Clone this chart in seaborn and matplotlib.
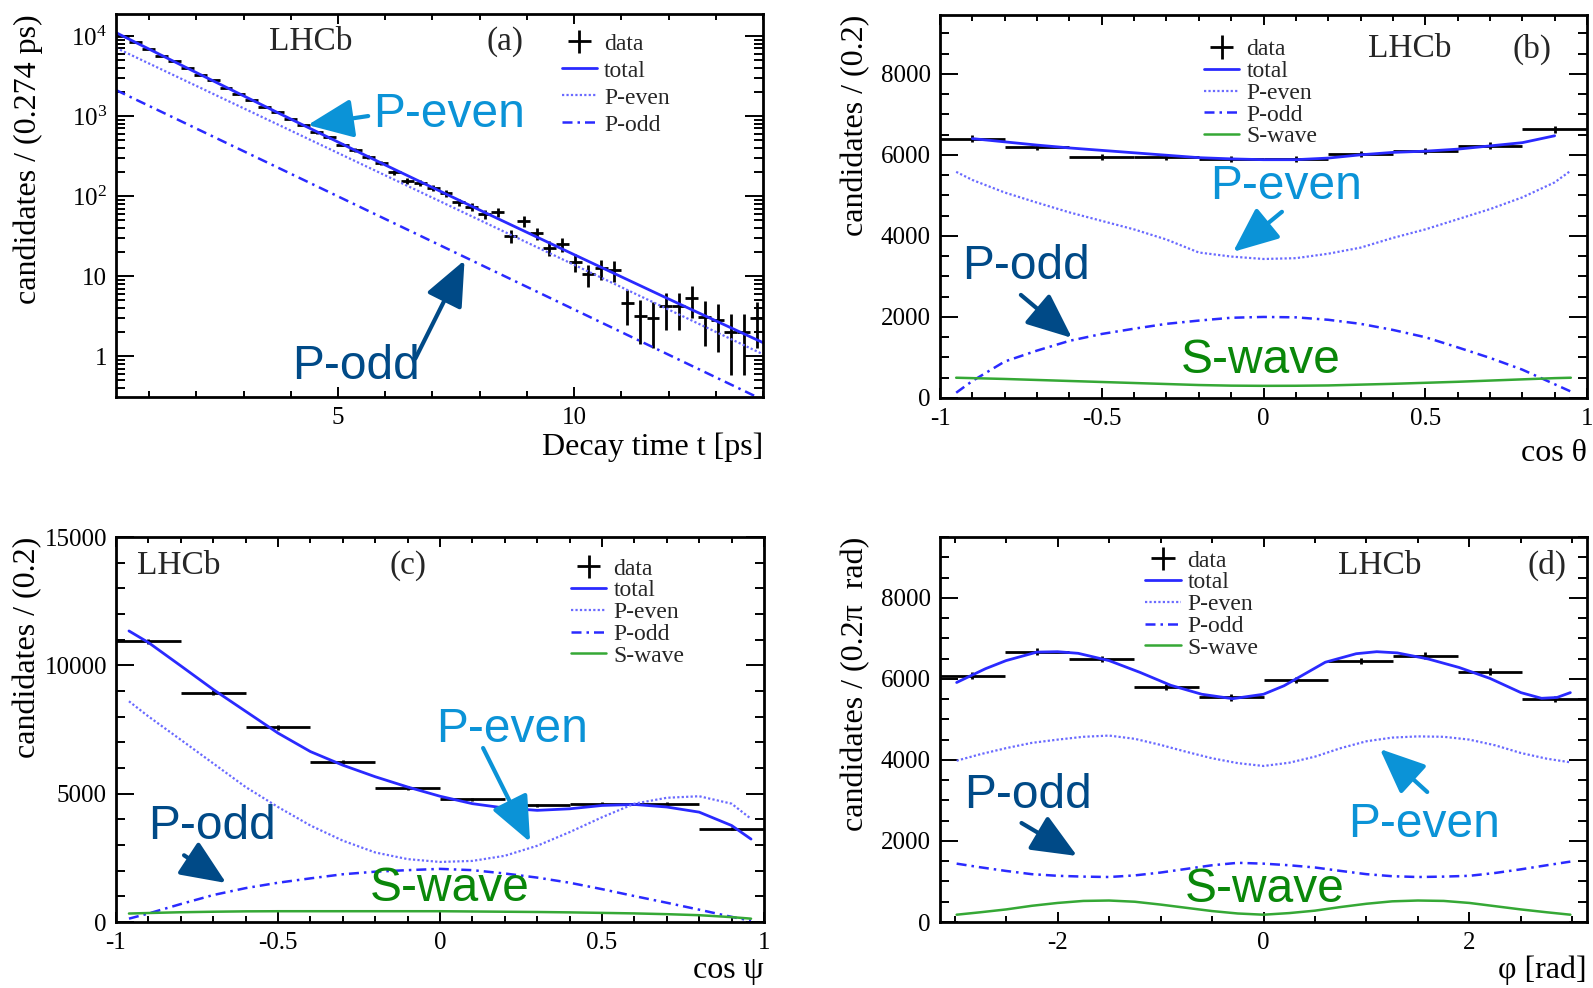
import numpy as np
import matplotlib
matplotlib.use("Agg")
import matplotlib.pyplot as plt
import seaborn as sns
from matplotlib.ticker import MultipleLocator, FixedLocator, FixedFormatter, FuncFormatter, LogLocator, NullFormatter

# ---------------- (a) decay time ----------------
t_lo, t_hi, t_bin = 0.3, 14.0, 0.274
decay_counts = [10000, 8300, 6950, 5700, 4800, 3950, 3300, 2780, 2270, 1900,
                1600, 1310, 1110, 910, 770, 630, 540, 440, 375, 305,
                262, 200, 154, 145, 126, 109, 84, 73, 60, 63,
                31.6, 48.7, 34.5, 22.4, 25, 15, 10.6, 12.6, 12, 4.6,
                3.2, 3.0, 4.2, 4.2, 5.3, 3.1, 2.8, 2.0, 2.0, 3.0]
t_fit_total = [0.3, 2, 4, 6, 8, 10, 12, 14]
total_t = [11000, 3490, 917, 245, 67, 18.6, 5.2, 1.48]
t_fit_comp = [0.3, 14.0]
peven_t = [7100, 1.06]
podd_t = [2110, 0.285]

# ---------------- (b) cos theta ----------------
cth_counts = [6400, 6200, 5950, 5950, 5900, 5890, 6020, 6090, 6230, 6630]
cth_x_tot = [-0.9, -0.8, -0.7, -0.6, -0.5, -0.4, -0.3, -0.2, -0.1, 0.0,
             0.1, 0.2, 0.3, 0.4, 0.5, 0.6, 0.7, 0.8, 0.9]
cth_total = [6400, 6320, 6240, 6170, 6110, 6050, 5990, 5930, 5900, 5880,
             5880, 5920, 6000, 6060, 6090, 6140, 6220, 6300, 6470]
cth_x = [-0.95, -0.9, -0.8, -0.7, -0.6, -0.5, -0.4, -0.3, -0.2, -0.1, 0.0,
         0.1, 0.2, 0.3, 0.4, 0.5, 0.6, 0.7, 0.8, 0.9, 0.95]
cth_peven = [5580, 5380, 5070, 4820, 4580, 4370, 4160, 3910, 3590, 3490, 3430,
             3450, 3560, 3710, 3950, 4160, 4410, 4660, 4950, 5320, 5610]
cth_podd = [130, 420, 900, 1170, 1410, 1580, 1710, 1830, 1910, 1980, 2000,
            1990, 1930, 1830, 1680, 1500, 1250, 990, 700, 340, 160]
cth_swave = [500, 490, 470, 445, 420, 395, 370, 345, 320, 305, 300,
             302, 310, 330, 350, 375, 400, 430, 460, 490, 500]

# ---------------- (c) cos psi ----------------
cps_counts = [10930, 8940, 7580, 6240, 5220, 4780, 4540, 4610, 4610, 3630]
cps_x = [-0.96, -0.9, -0.8, -0.7, -0.6, -0.5, -0.4, -0.3, -0.2, -0.1, 0.0,
         0.1, 0.2, 0.3, 0.4, 0.5, 0.6, 0.7, 0.8, 0.9, 0.96]
cps_total = [11340, 10890, 9980, 9060, 8210, 7360, 6640, 6110, 5660, 5260, 4900,
             4610, 4440, 4350, 4410, 4540, 4580, 4480, 4280, 3760, 3230]
cps_peven = [8600, 8010, 7100, 6180, 5260, 4480, 3760, 3170, 2710, 2450, 2340,
             2380, 2580, 2970, 3500, 4080, 4610, 4840, 4900, 4610, 4020]
cps_podd = [130, 330, 700, 1050, 1320, 1530, 1700, 1860, 1960, 2020, 2070,
            2020, 1890, 1730, 1530, 1280, 1010, 750, 480, 200, 50]
cps_swave = [330, 350, 380, 400, 415, 420, 420, 420, 420, 420, 420,
             410, 400, 390, 375, 355, 335, 305, 265, 190, 130]

# ---------------- (d) phi ----------------
phi_counts = [6080, 6670, 6490, 5790, 5540, 5980, 6440, 6570, 6180, 5510]
phi_x_tot = [-2.98, -2.7, -2.5, -2.2, -2.0, -1.8, -1.5, -1.2, -0.9, -0.6, -0.3, 0.0,
             0.2, 0.4, 0.6, 0.9, 1.1, 1.3, 1.6, 1.9, 2.2, 2.5, 2.7, 2.85, 2.98]
phi_total = [5910, 6250, 6450, 6660, 6670, 6630, 6450, 6160, 5840, 5620, 5510, 5620,
             5830, 6120, 6410, 6620, 6670, 6640, 6490, 6280, 6010, 5660, 5520, 5540, 5660]
phi_x = [-2.98, -2.75, -2.5, -2.25, -2.0, -1.75, -1.5, -1.25, -1.0, -0.75, -0.5, -0.25, 0.0,
         0.25, 0.5, 0.75, 1.0, 1.25, 1.5, 1.75, 2.0, 2.25, 2.5, 2.75, 2.98]
phi_peven = [3980, 4140, 4290, 4420, 4500, 4570, 4600, 4520, 4370, 4200, 4040, 3920, 3850,
             3930, 4080, 4290, 4460, 4550, 4580, 4570, 4500, 4360, 4170, 4030, 3940]
phi_podd = [1440, 1350, 1260, 1180, 1140, 1120, 1110, 1150, 1220, 1310, 1400, 1460, 1440,
            1400, 1345, 1260, 1180, 1130, 1110, 1120, 1140, 1210, 1300, 1400, 1490]
phi_swave = [180, 240, 310, 400, 470, 520, 530, 500, 430, 350, 270, 210, 180,
             220, 280, 370, 450, 510, 530, 520, 470, 390, 310, 240, 180]

# ---------------- style ----------------
sns.set_theme(style="ticks")
plt.rcParams["font.family"] = ["Liberation Serif", "DejaVu Serif"]
plt.rcParams["mathtext.default"] = "regular"
plt.rcParams["axes.unicode_minus"] = False
plt.rcParams["axes.linewidth"] = 2.0
plt.rcParams["axes.edgecolor"] = "black"

C_TOTAL = "#2a2aff"
C_PEVEN = "#6a6aff"
C_PODD = "#2a2aff"
C_SWAVE = "#35a835"
L_PEVEN = "#0b93d7"
L_PODD = "#004a87"
L_SWAVE = "#0a870a"
SANS = ["Liberation Sans", "DejaVu Sans"]

W, H = 1593, 988
fig = plt.figure(figsize=(W / 100, H / 100), dpi=100)
fig.patch.set_facecolor("white")

ax_a = fig.add_axes([116 / W, 1 - 397 / H, 647 / W, 383 / H])
ax_b = fig.add_axes([940 / W, 1 - 398 / H, 647 / W, 383 / H])
ax_c = fig.add_axes([116 / W, 1 - 922 / H, 648 / W, 385 / H])
ax_d = fig.add_axes([940 / W, 1 - 922 / H, 647 / W, 385 / H])

gfmt = FuncFormatter(lambda v, p: "%g" % v)


def style(ax):
    ax.set_facecolor("white")
    for s in ax.spines.values():
        s.set_linewidth(2.0)
        s.set_color("black")
    ax.tick_params(which="both", direction="in", top=True, right=True,
                   width=1.4, color="black", labelsize=18, labelcolor="black")
    ax.tick_params(axis="y", which="major", length=13, pad=6.5)
    ax.tick_params(axis="y", which="minor", length=6.5)
    ax.tick_params(axis="x", which="major", length=7.5, pad=7)
    ax.tick_params(axis="x", which="minor", length=4)


def fit_line(ax, x, y, color, ls, lw):
    sns.lineplot(x=np.asarray(x, float), y=np.asarray(y, float), ax=ax, color=color,
                 linestyle=ls, linewidth=lw, legend=False, sort=False,
                 estimator=None, errorbar=None)
    return ax.lines[-1]


def data_points(ax, centers, counts, half):
    counts = np.asarray(counts, float)
    return ax.errorbar(centers, counts, xerr=half, yerr=np.sqrt(counts), fmt="none",
                       ecolor="black", elinewidth=2.0, capsize=0, zorder=2)


def labels(ax, ylab, xlab, ylx, xly):
    ax.set_ylabel(ylab, fontsize=23, loc="top", color="black")
    ax.yaxis.set_label_coords(ylx, 1.0)
    ax.yaxis.label.set_verticalalignment("center")
    ax.set_xlabel(xlab, fontsize=23, loc="right", color="black")
    ax.xaxis.set_label_coords(1.0, xly)
    ax.xaxis.label.set_verticalalignment("center")


def tag(ax, lx, tx, y, letter):
    ax.text(lx, y, "LHCb", transform=ax.transAxes, fontsize=24, ha="center", va="center")
    ax.text(tx, y, letter, transform=ax.transAxes, fontsize=24, ha="center", va="center")


def annot(ax, text, color, pos, tail=None, tip=None):
    ax.text(pos[0], pos[1], text, color=color, fontsize=34.5, family=SANS,
            ha="center", va="center", zorder=6)
    if tail is not None:
        ax.annotate("", xy=tip, xytext=tail,
                    arrowprops=dict(arrowstyle="-|>,head_length=1.4,head_width=0.6",
                                    mutation_scale=20, lw=3, color=color,
                                    shrinkA=0, shrinkB=0), zorder=6)


def legend(ax, handles, names, x, y, spacing):
    ax.legend(handles, names, loc="upper left", bbox_to_anchor=(x, y), frameon=False,
              fontsize=17, handlelength=1.5, handletextpad=0.3, labelspacing=spacing,
              borderpad=0, borderaxespad=0)


S_TOTAL = "-"
S_PEVEN = (0, (1, 1))
S_PODD = (0, (4, 2, 1, 2))

# ---------------- panel (a) ----------------
ax = ax_a
style(ax)
nb = len(decay_counts)
t_centers = t_lo + t_bin * (np.arange(nb) + 0.5)
eb = data_points(ax, t_centers, decay_counts, t_bin / 2)
h_tot = fit_line(ax, t_fit_total, total_t, C_TOTAL, S_TOTAL, 2.0)
h_pe = fit_line(ax, t_fit_comp, peven_t, C_PEVEN, S_PEVEN, 1.6)
h_po = fit_line(ax, t_fit_comp, podd_t, C_PODD, S_PODD, 1.8)
ax.set_yscale("log")
ax.set_xlim(t_lo, t_hi)
ax.set_ylim(0.31, 18800)
ax.xaxis.set_major_locator(FixedLocator([5, 10]))
ax.xaxis.set_major_formatter(gfmt)
ax.xaxis.set_minor_locator(MultipleLocator(1))
ax.yaxis.set_major_locator(FixedLocator([1, 10, 100, 1000, 10000]))
ax.yaxis.set_major_formatter(FixedFormatter(["1", "10", r"$10^{2}$", r"$10^{3}$", r"$10^{4}$"]))
ax.yaxis.set_minor_locator(LogLocator(base=10, subs=np.arange(2, 10)))
ax.yaxis.set_minor_formatter(NullFormatter())
labels(ax, "candidates / (0.274 ps)", "Decay time t [ps]", -0.136, -0.13)
tag(ax, 0.301, 0.601, 0.927, "(a)")
legend(ax, [eb, h_tot, h_pe, h_po], ["data", "total", "P-even", "P-odd"], 0.689, 0.950, 0.23)
annot(ax, "P-even", L_PEVEN, (7.35, 1060), (5.64, 1000), (4.36, 772))
annot(ax, "P-odd", L_PODD, (5.38, 0.75), (6.64, 0.94), (7.68, 15.8))

# ---------------- panel (b) ----------------
ax = ax_b
style(ax)
edges10 = np.linspace(-1, 1, 11)
c10 = 0.5 * (edges10[1:] + edges10[:-1])
eb = data_points(ax, c10, cth_counts, 0.1)
h_tot = fit_line(ax, cth_x_tot, cth_total, C_TOTAL, S_TOTAL, 2.0)
h_pe = fit_line(ax, cth_x, cth_peven, C_PEVEN, S_PEVEN, 1.6)
h_po = fit_line(ax, cth_x, cth_podd, C_PODD, S_PODD, 1.8)
h_sw = fit_line(ax, cth_x, cth_swave, C_SWAVE, S_TOTAL, 1.8)
ax.set_xlim(-1, 1)
ax.set_ylim(0, 9450)
ax.xaxis.set_major_locator(MultipleLocator(0.5))
ax.xaxis.set_minor_locator(MultipleLocator(0.1))
ax.yaxis.set_major_locator(MultipleLocator(2000))
ax.yaxis.set_minor_locator(MultipleLocator(500))
ax.xaxis.set_major_formatter(gfmt)
ax.yaxis.set_major_formatter(gfmt)
labels(ax, "candidates / (0.2)", "cos θ", -0.131, -0.144)
tag(ax, 0.726, 0.915, 0.911, "(b)")
legend(ax, [eb, h_tot, h_pe, h_po, h_sw], ["data", "total", "P-even", "P-odd", "S-wave"],
       0.408, 0.938, 0.01)
annot(ax, "P-even", L_PEVEN, (0.071, 5212), (0.057, 4594), (-0.094, 3606))
annot(ax, "P-odd", L_PODD, (-0.733, 3236), (-0.75, 2544), (-0.592, 1482))
annot(ax, "S-wave", L_SWAVE, (-0.008, 914))

# ---------------- panel (c) ----------------
ax = ax_c
style(ax)
eb = data_points(ax, c10, cps_counts, 0.1)
h_tot = fit_line(ax, cps_x, cps_total, C_TOTAL, S_TOTAL, 2.0)
h_pe = fit_line(ax, cps_x, cps_peven, C_PEVEN, S_PEVEN, 1.6)
h_po = fit_line(ax, cps_x, cps_podd, C_PODD, S_PODD, 1.8)
h_sw = fit_line(ax, cps_x, cps_swave, C_SWAVE, S_TOTAL, 1.8)
ax.set_xlim(-1, 1)
ax.set_ylim(0, 15000)
ax.xaxis.set_major_locator(MultipleLocator(0.5))
ax.xaxis.set_minor_locator(MultipleLocator(0.1))
ax.yaxis.set_major_locator(MultipleLocator(5000))
ax.yaxis.set_minor_locator(MultipleLocator(1000))
ax.xaxis.set_major_formatter(gfmt)
ax.yaxis.set_major_formatter(gfmt)
labels(ax, "candidates / (0.2)", "cos ψ", -0.136, -0.125)
tag(ax, 0.097, 0.451, 0.925, "(c)")
legend(ax, [eb, h_tot, h_pe, h_po, h_sw], ["data", "total", "P-even", "P-odd", "S-wave"],
       0.702, 0.945, 0.01)
annot(ax, "P-even", L_PEVEN, (0.221, 7519), (0.133, 6779), (0.278, 3117))
annot(ax, "P-odd", L_PODD, (-0.704, 3740), (-0.79, 2600), (-0.66, 1519))
annot(ax, "S-wave", L_SWAVE, (0.029, 1286))

# ---------------- panel (d) ----------------
ax = ax_d
style(ax)
edges_phi = np.linspace(-np.pi, np.pi, 11)
cphi = 0.5 * (edges_phi[1:] + edges_phi[:-1])
eb = data_points(ax, cphi, phi_counts, 0.1 * np.pi)
h_tot = fit_line(ax, phi_x_tot, phi_total, C_TOTAL, S_TOTAL, 2.0)
h_pe = fit_line(ax, phi_x, phi_peven, C_PEVEN, S_PEVEN, 1.6)
h_po = fit_line(ax, phi_x, phi_podd, C_PODD, S_PODD, 1.8)
h_sw = fit_line(ax, phi_x, phi_swave, C_SWAVE, S_TOTAL, 1.8)
ax.set_xlim(-np.pi, np.pi)
ax.set_ylim(0, 9500)
ax.xaxis.set_major_locator(MultipleLocator(2))
ax.xaxis.set_minor_locator(MultipleLocator(0.5))
ax.yaxis.set_major_locator(MultipleLocator(2000))
ax.yaxis.set_minor_locator(MultipleLocator(500))
ax.xaxis.set_major_formatter(gfmt)
ax.yaxis.set_major_formatter(gfmt)
labels(ax, "candidates / (0.2π  rad)", "φ [rad]", -0.131, -0.125)
tag(ax, 0.68, 0.938, 0.925, "(d)")
legend(ax, [eb, h_tot, h_pe, h_po, h_sw], ["data", "total", "P-even", "P-odd", "S-wave"],
       0.317, 0.966, 0.01)
annot(ax, "P-odd", L_PODD, (-2.29, 3110), (-2.35, 2443), (-1.81, 1629))
annot(ax, "P-even", L_PEVEN, (1.56, 2394), (1.59, 3208), (1.13, 4270))
annot(ax, "S-wave", L_SWAVE, (0.015, 814))

fig.savefig("out.png", dpi=100, facecolor="white")
